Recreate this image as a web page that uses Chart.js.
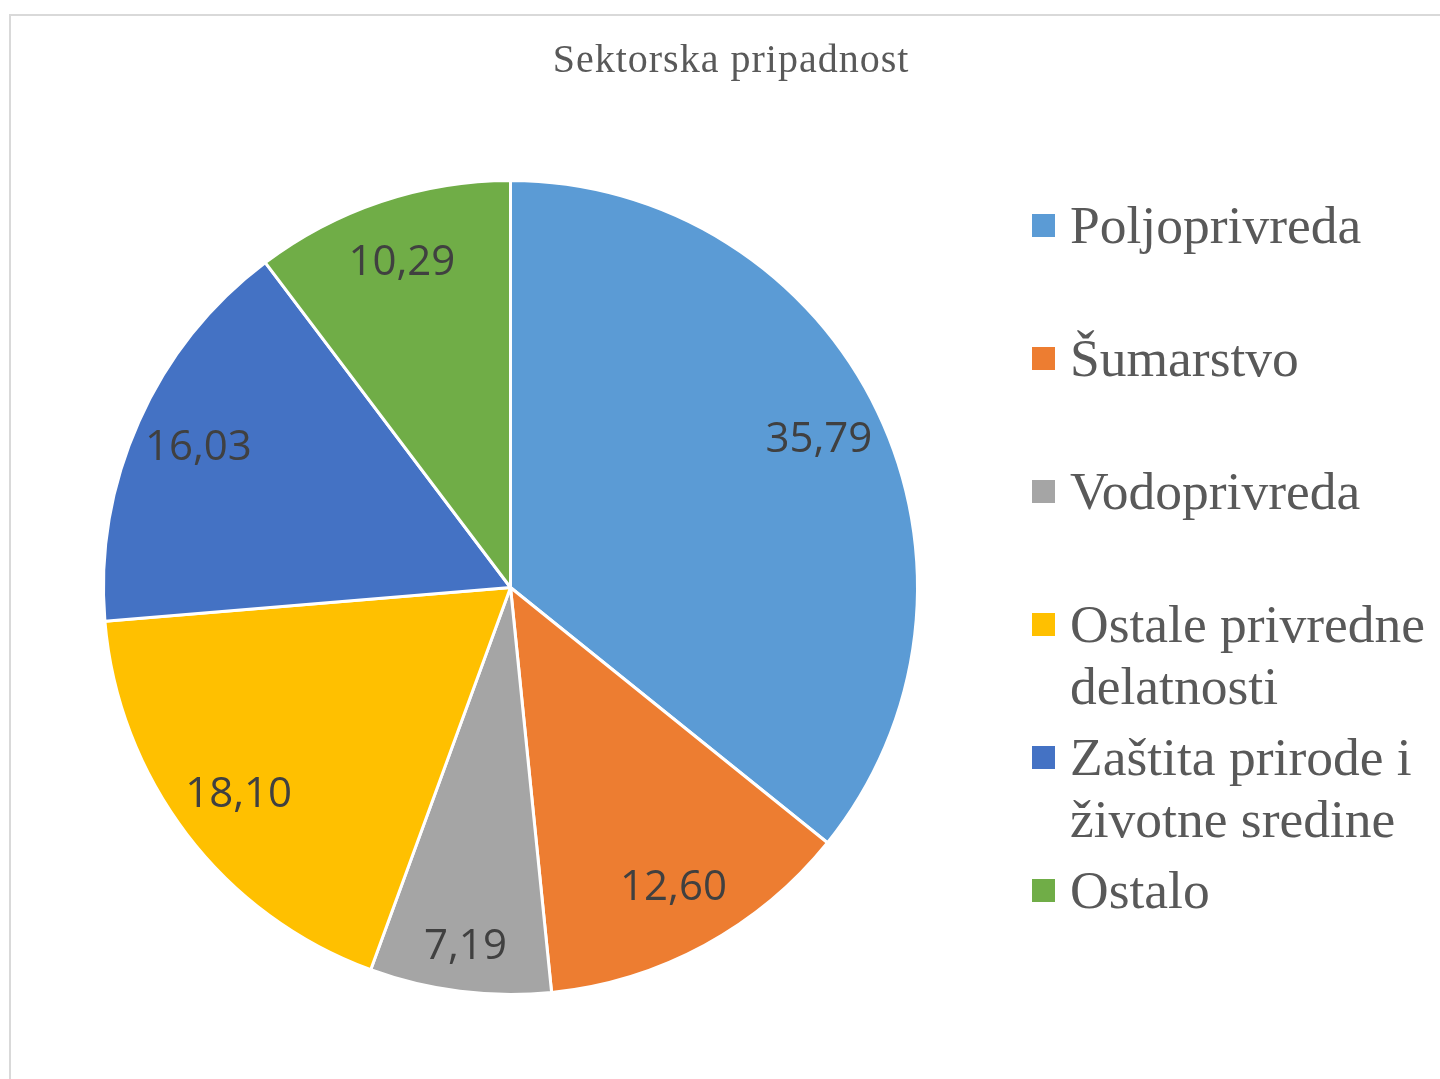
<!DOCTYPE html>
<html>
<head>
<meta charset="utf-8">
<title>Sektorska pripadnost</title>
<script src="https://cdn.jsdelivr.net/npm/chart.js@4.4.1/dist/chart.umd.min.js"></script>
<style>
    html, body {
        margin: 0;
        padding: 0;
        background: #ffffff;
        overflow: hidden;
        width: 1440px;
        height: 1079px;
    }
    .frame {
        position: absolute;
        left: 9px;
        top: 14px;
        width: 1500px;
        height: 1200px;
        border-left: 2px solid #d9d9d9;
        border-top: 2px solid #d9d9d9;
    }
    #sectorChart {
        position: absolute;
        left: 0;
        top: 0;
    }
</style>
</head>
<body>
<div class="frame">
    <canvas id="sectorChart" width="1440" height="1063"></canvas>
</div>
<script>
    // Chart data
    const chartTitle = 'Sektorska pripadnost';
    const sectorLabels = [
        'Poljoprivreda',
        'Šumarstvo',
        'Vodoprivreda',
        'Ostale privredne delatnosti',
        'Zaštita prirode i životne sredine',
        'Ostalo'
    ];
    const sectorShares = [35.79, 12.60, 7.19, 18.10, 16.03, 10.29];
    const sectorColors = ['#5b9bd5', '#ed7d31', '#a5a5a5', '#ffc000', '#4472c4', '#70ad47'];

    const colorText = '#595959';
    const colorLabel = '#404040';
    const serifFont = '"Liberation Serif", "Times New Roman", serif';

    // Title centred over the whole chart, not only over the pie area
    const wideTitle = {
        id: 'wideTitle',
        afterDraw(chart) {
            const ctx = chart.ctx;
            ctx.save();
            ctx.font = '40px ' + serifFont;
            ctx.letterSpacing = '1px';
            ctx.fillStyle = colorText;
            ctx.textAlign = 'center';
            ctx.textBaseline = 'alphabetic';
            ctx.fillText(chartTitle, chart.width / 2, 56);
            ctx.restore();
        }
    };

    // Value labels inside the slices (comma as decimal separator)
    const sliceLabels = {
        id: 'sliceLabels',
        afterDatasetsDraw(chart) {
            const ctx = chart.ctx;
            const meta = chart.getDatasetMeta(0);
            const values = chart.data.datasets[0].data;
            ctx.save();
            ctx.font = '42px "Open Sans"';
            ctx.fillStyle = colorLabel;
            ctx.textAlign = 'center';
            ctx.textBaseline = 'middle';
            meta.data.forEach((arc, i) => {
                const p = arc.getProps(['x', 'y', 'startAngle', 'endAngle', 'outerRadius'], true);
                const span = p.endAngle - p.startAngle;
                const mid = p.startAngle + span / 2;
                const ratio = span < Math.PI / 6 ? 0.89 : 0.84;
                const d = p.outerRadius * ratio;
                ctx.fillText(values[i].toFixed(2).replace('.', ','),
                    p.x + Math.cos(mid) * d, p.y + Math.sin(mid) * d);
            });
            ctx.restore();
        }
    };

    // Legend on the right: fixed row step, long names wrap downwards
    const sideLegend = {
        id: 'sideLegend',
        afterDraw(chart) {
            const ctx = chart.ctx;
            const boxX = 1021;
            const boxSize = 23;
            const textX = 1059;
            const firstY = 209.5;
            const rowStep = 133;
            const lineStep = 62;
            const maxWidth = 372;
            ctx.save();
            ctx.font = '53.5px ' + serifFont;
            ctx.textAlign = 'left';
            ctx.textBaseline = 'alphabetic';
            chart.data.labels.forEach((label, i) => {
                const cy = firstY + i * rowStep;
                ctx.fillStyle = chart.data.datasets[0].backgroundColor[i];
                ctx.fillRect(boxX, cy - boxSize / 2, boxSize, boxSize);

                const lines = [];
                let line = '';
                label.split(' ').forEach(word => {
                    const test = line ? line + ' ' + word : word;
                    if (line && ctx.measureText(test).width > maxWidth) {
                        lines.push(line);
                        line = word;
                    } else {
                        line = test;
                    }
                });
                lines.push(line);

                ctx.fillStyle = colorText;
                lines.forEach((text, j) => {
                    ctx.fillText(text, textX, cy + 17 + j * lineStep);
                });
            });
            ctx.restore();
        }
    };

    new Chart(document.getElementById('sectorChart'), {
        type: 'pie',
        data: {
            labels: sectorLabels,
            datasets: [{
                data: sectorShares,
                backgroundColor: sectorColors,
                borderColor: '#ffffff',
                borderWidth: 3,
                hoverOffset: 0
            }]
        },
        options: {
            responsive: false,
            animation: false,
            devicePixelRatio: 1,
            layout: {
                padding: {
                    top: 163,
                    left: 91,
                    right: 532,
                    bottom: 83
                }
            },
            plugins: {
                legend: {
                    display: false
                },
                tooltip: {
                    enabled: false
                },
                title: {
                    display: false
                }
            }
        },
        plugins: [wideTitle, sliceLabels, sideLegend]
    });
</script>
</body>
</html>
